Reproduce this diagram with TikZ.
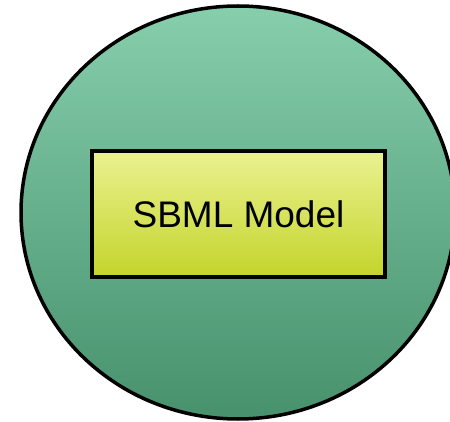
\documentclass[tikz,border=0pt]{standalone}
\usepackage{fontspec}
\setmainfont{Liberation Sans}
\usetikzlibrary{shapes.geometric}
\definecolor{celltop}{HTML}{86CEAC}
\definecolor{cellbottom}{HTML}{48916D}
\definecolor{boxtop}{HTML}{EAF291}
\definecolor{boxbottom}{HTML}{C4D42A}
\tikzset{
  cell/.style={ellipse, draw=black, line width=3.5pt, inner sep=0pt,
    top color=celltop, bottom color=cellbottom},
  modelbox/.style={rectangle, draw=black, line width=3.5pt, inner sep=0pt,
    top color=boxtop, bottom color=boxbottom, font=\fontsize{37}{44}\selectfont}
}
\begin{document}
\begin{tikzpicture}[x=1pt,y=-1pt]
\useasboundingbox (0,0) rectangle (450,422);
\clip (0,0) rectangle (450,422);
\node[cell, minimum width=434pt, minimum height=413pt] (compartment) at (238,212.5) {};
\node[modelbox, minimum width=293pt, minimum height=126pt] (model) at (238.5,214) {SBML Model};
\end{tikzpicture}
\end{document}
